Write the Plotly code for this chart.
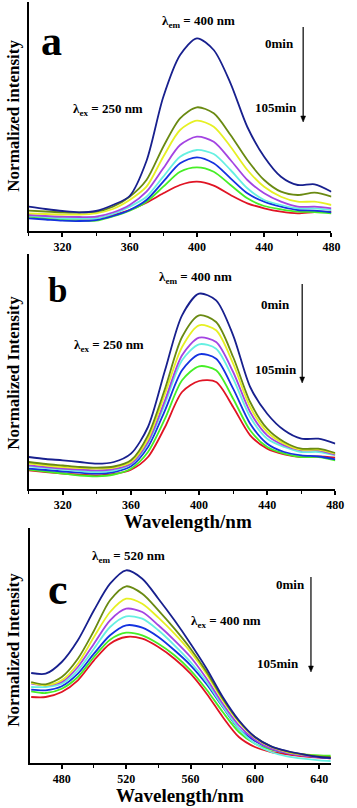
import plotly.graph_objects as go

# wavelengths (nm)
wl_ab = [300, 310, 320, 330, 340, 350, 360, 370, 380, 390, 400, 410, 420, 430, 440, 450, 460, 470, 480]
wl_c = [461, 470, 480, 490, 500, 510, 520, 530, 540, 550, 560, 570, 580, 590, 600, 610, 620, 630, 640, 647]

series_names = ["0min", "15min", "30min", "45min", "60min", "75min", "90min", "105min"]
colors = ["#18208e", "#6a8a12", "#e6f024", "#a444e2", "#66f0e2", "#1432e0", "#46ee26", "#e01424"]

# panel a (lambda_ex = 250 nm)
a_0 = [24.3, 22, 20, 18.7, 20, 26, 35, 70, 134, 176, 192.7, 181, 147.7, 104, 74.3, 54.3, 46, 46.7, 39.3]
a_15 = [20.3, 19.5, 18.7, 18.5, 19.3, 24.3, 34.3, 51, 84.3, 112.7, 123.7, 117.7, 96, 71, 51, 39.3, 36, 38.3, 34.3]
a_30 = [17.7, 17, 16.5, 16.5, 17.7, 22, 31, 44.3, 74.3, 101, 110.3, 104.3, 84.3, 61, 44.3, 34.3, 29.3, 29.3, 26]
a_45 = [16, 15, 14.3, 14, 14.3, 18.5, 26, 39.3, 62.7, 86, 94.3, 89.3, 71, 51, 37.7, 29.3, 24.3, 24.3, 22.7]
a_60 = [15.5, 14, 12.7, 12.5, 12.7, 17, 24.3, 34.3, 54.3, 74.3, 81, 77, 61, 42.7, 31, 26, 22.7, 22.7, 21]
a_75 = [12.7, 11.5, 10.3, 10, 11, 15, 21, 31, 49.3, 67.7, 73.7, 67.7, 52.7, 37.7, 29.3, 24.3, 21, 20.3, 18.7]
a_90 = [14.3, 12.5, 11, 10.5, 10.3, 14.5, 20.3, 29.3, 44.3, 59.3, 63.7, 59.3, 46, 32.7, 25, 21.7, 19.3, 19, 17.7]
a_105 = [15, 13.5, 12.7, 12.3, 12.7, 16, 21, 28.3, 37.7, 46, 49.3, 45.3, 36, 27.7, 22.7, 19.3, 17.7, 19, 19.3]

# panel b (lambda_ex = 250 nm)
b_0 = [32, 30, 28.7, 27, 25.3, 27, 35.3, 62, 118.7, 173.7, 195.3, 188.7, 153.7, 102, 75.3, 58.7, 50.3, 50.3, 45.3]
b_15 = [27, 25, 23.5, 22, 21.3, 22.5, 28.7, 53.7, 100.3, 152, 173.7, 167, 132, 87, 60.3, 47, 40.3, 40.3, 36]
b_30 = [25.3, 23.5, 22, 21, 20.3, 21.5, 27, 50.3, 95.3, 142, 163.7, 158.7, 125.3, 82, 57, 45.3, 39.3, 39.3, 35.3]
b_45 = [23.7, 22, 20.5, 19.5, 18.7, 20, 25.3, 47, 88.7, 133.7, 151.3, 147, 117, 77, 53.7, 43.7, 38.7, 38.7, 34.3]
b_60 = [22.7, 21, 19.5, 18, 17, 18.5, 24.7, 45.3, 85.3, 128.7, 144.7, 140.3, 110.3, 72, 50.3, 42, 37, 37, 33.7]
b_75 = [20.3, 19, 17.5, 16.3, 15.3, 17, 22.7, 42, 78.7, 118.7, 134.7, 130.3, 100.3, 65.3, 45.3, 37, 33.7, 32.5, 29.7]
b_90 = [19.3, 17.5, 15.5, 13.5, 12.7, 14.5, 20.3, 37, 70.3, 108.7, 122.7, 118.7, 90.3, 58.7, 42, 35.3, 32, 32, 28.7]
b_105 = [18.7, 17, 15.5, 14.3, 13.7, 15, 19.3, 32, 62, 97, 108, 107, 82, 53.7, 40.3, 34.7, 32, 32.5, 31.3]

# panel c (lambda_ex = 400 nm)
c_0 = [90, 89.3, 101, 122.7, 152.7, 179.3, 192.7, 184.3, 164.3, 142.7, 119.3, 94.3, 66, 42.7, 26, 16.7, 12, 8.7, 6, 5]
c_15 = [81, 78.7, 86, 104.3, 132.3, 162.7, 176.7, 169.3, 152.7, 134.3, 114.3, 91, 64.3, 42, 26, 16.7, 11.7, 8.7, 6.7, 6]
c_30 = [80, 77.7, 82.7, 99.3, 126, 151, 164.3, 159.3, 145.3, 129.3, 111, 88.7, 62.7, 41, 25.3, 16, 11, 8.3, 6.7, 6]
c_45 = [79.3, 77.7, 81, 96, 119.3, 142.7, 154.3, 151, 137.7, 122.7, 106, 84.3, 59.3, 37.7, 23.3, 14.3, 10, 7.3, 5.7, 4.7]
c_60 = [76, 76, 79.3, 92.7, 114.3, 136, 146.7, 144.3, 132.7, 117.7, 101, 81, 56.7, 34.3, 19.3, 11, 6.7, 4.3, 2.7, 2]
c_75 = [73.3, 72.7, 76.7, 89.3, 109.3, 127.7, 137.7, 135.3, 126, 112.7, 97.7, 78.7, 56, 34.3, 22, 14.3, 10, 7.7, 6, 5]
c_90 = [71.7, 70, 74.3, 86, 106, 123.3, 130.3, 127.7, 119.3, 107.7, 92.7, 73.3, 51, 31, 19.3, 13.3, 10.3, 8.7, 7.7, 7.3]
c_105 = [66, 66, 71, 82.7, 102.7, 119.3, 126, 124.3, 116, 104.3, 89.3, 69.3, 46, 26, 16, 11, 8.7, 6.7, 5.3, 4.7]

panels = [
    (wl_ab, [a_0, a_15, a_30, a_45, a_60, a_75, a_90, a_105], "x", "y"),
    (wl_ab, [b_0, b_15, b_30, b_45, b_60, b_75, b_90, b_105], "x2", "y2"),
    (wl_c, [c_0, c_15, c_30, c_45, c_60, c_75, c_90, c_105], "x3", "y3"),
]

W, H = 357, 808
FONT = "Liberation Serif"

fig = go.Figure()
for wl, curves, xa, ya in panels:
    # draw the weakest first so 0min sits on top
    for name, col, ys in reversed(list(zip(series_names, colors, curves))):
        fig.add_trace(go.Scatter(
            x=wl, y=ys, mode="lines", name=name,
            line=dict(color=col, width=1.8, shape="spline", smoothing=0.8),
            xaxis=xa, yaxis=ya, showlegend=False, hoverinfo="skip",
        ))


def px(x):
    return x / W


def py(y):
    return 1 - y / H


xcommon = dict(
    showline=True, linecolor="black", linewidth=2, mirror=False,
    ticks="outside", ticklen=4, tickwidth=1.5, tickcolor="black",
    minor=dict(ticks="outside", ticklen=3, tickwidth=1.2, tickcolor="black", dtick=20),
    showgrid=False, zeroline=False, dtick=40,
    tickfont=dict(family=FONT, size=12, color="black", weight="bold"),
)
ycommon = dict(
    showline=True, linecolor="black", linewidth=2, ticks="", showticklabels=False,
    showgrid=False, zeroline=False,
)

fig.update_layout(
    width=W, height=H,
    margin=dict(l=0, r=0, t=0, b=0),
    plot_bgcolor="white", paper_bgcolor="white",
    xaxis=dict(xcommon, domain=[px(29.5), px(340)], range=[300, 480], tick0=320, anchor="y"),
    yaxis=dict(ycommon, domain=[py(231), py(2)], range=[0, 229], anchor="x"),
    xaxis2=dict(xcommon, domain=[px(29.5), px(344)], range=[300, 480], tick0=320, anchor="y2"),
    yaxis2=dict(ycommon, domain=[py(489), py(254)], range=[0, 235], anchor="x2"),
    xaxis3=dict(xcommon, domain=[px(31), px(340)], range=[460.4, 647.5], tick0=480, anchor="y3"),
    yaxis3=dict(ycommon, domain=[py(763), py(528)], range=[0, 235], anchor="x3"),
)

txt = dict(family=FONT, color="black", weight="bold")
notes = [
    # (text, x_px, y_px, size, angle)
    ("Normalized intensity", 13, 116, 17, -90),
    ("Normalized Intensity", 13, 373, 17, -90),
    ("Normalized Intensity", 13, 650, 17, -90),
    ("Wavelength/nm", 193, 521, 19, 0),
    ("Wavelength/nm", 185, 795, 19, 0),
    ("a", 53, 41, 42, 0),
    ("b", 59, 290, 35, 0),
    ("c", 60, 589, 44, 0),
    ("λ<sub>em</sub> = 400 nm", 204, 21, 13, 0),
    ("λ<sub>ex</sub> = 250 nm", 111, 109, 13, 0),
    ("0min", 287, 43, 13, 0),
    ("105min", 283, 107, 13, 0),
    ("λ<sub>em</sub> = 400 nm", 201, 277, 13, 0),
    ("λ<sub>ex</sub> = 250 nm", 112, 346, 13, 0),
    ("0min", 283, 304, 13, 0),
    ("105min", 283, 370, 13, 0),
    ("λ<sub>em</sub> = 520 nm", 132, 556, 13, 0),
    ("λ<sub>ex</sub> = 400 nm", 232, 621, 13, 0),
    ("0min", 298, 584, 13, 0),
    ("105min", 285, 663, 13, 0),
]
for text, x, y, size, ang in notes:
    fig.add_annotation(
        text=text, x=px(x), y=py(y), xref="paper", yref="paper",
        showarrow=False, textangle=ang, xanchor="center", yanchor="middle",
        font=dict(txt, size=size),
    )

# time arrows (0min -> 105min): a thin line plus a small head
for x, y0, y1 in [(311, 27, 122), (310, 284, 383), (319, 577, 672)]:
    fig.add_shape(type="line", xref="paper", yref="paper",
                  x0=px(x), x1=px(x), y0=py(y0), y1=py(y1 - 4),
                  line=dict(color="black", width=1.2))
    fig.add_shape(type="path", xref="paper", yref="paper",
                  path=f"M {px(x - 2.5)} {py(y1 - 6)} L {px(x + 2.5)} {py(y1 - 6)} L {px(x)} {py(y1)} Z",
                  fillcolor="black", line=dict(color="black", width=0.5))

# the page body has a default 8px margin; drop it so the figure fills the window
fig.write_html(
    "out.html",
    config={"displayModeBar": False},
    post_script="document.body.style.margin='0';document.body.style.overflow='hidden';",
)
